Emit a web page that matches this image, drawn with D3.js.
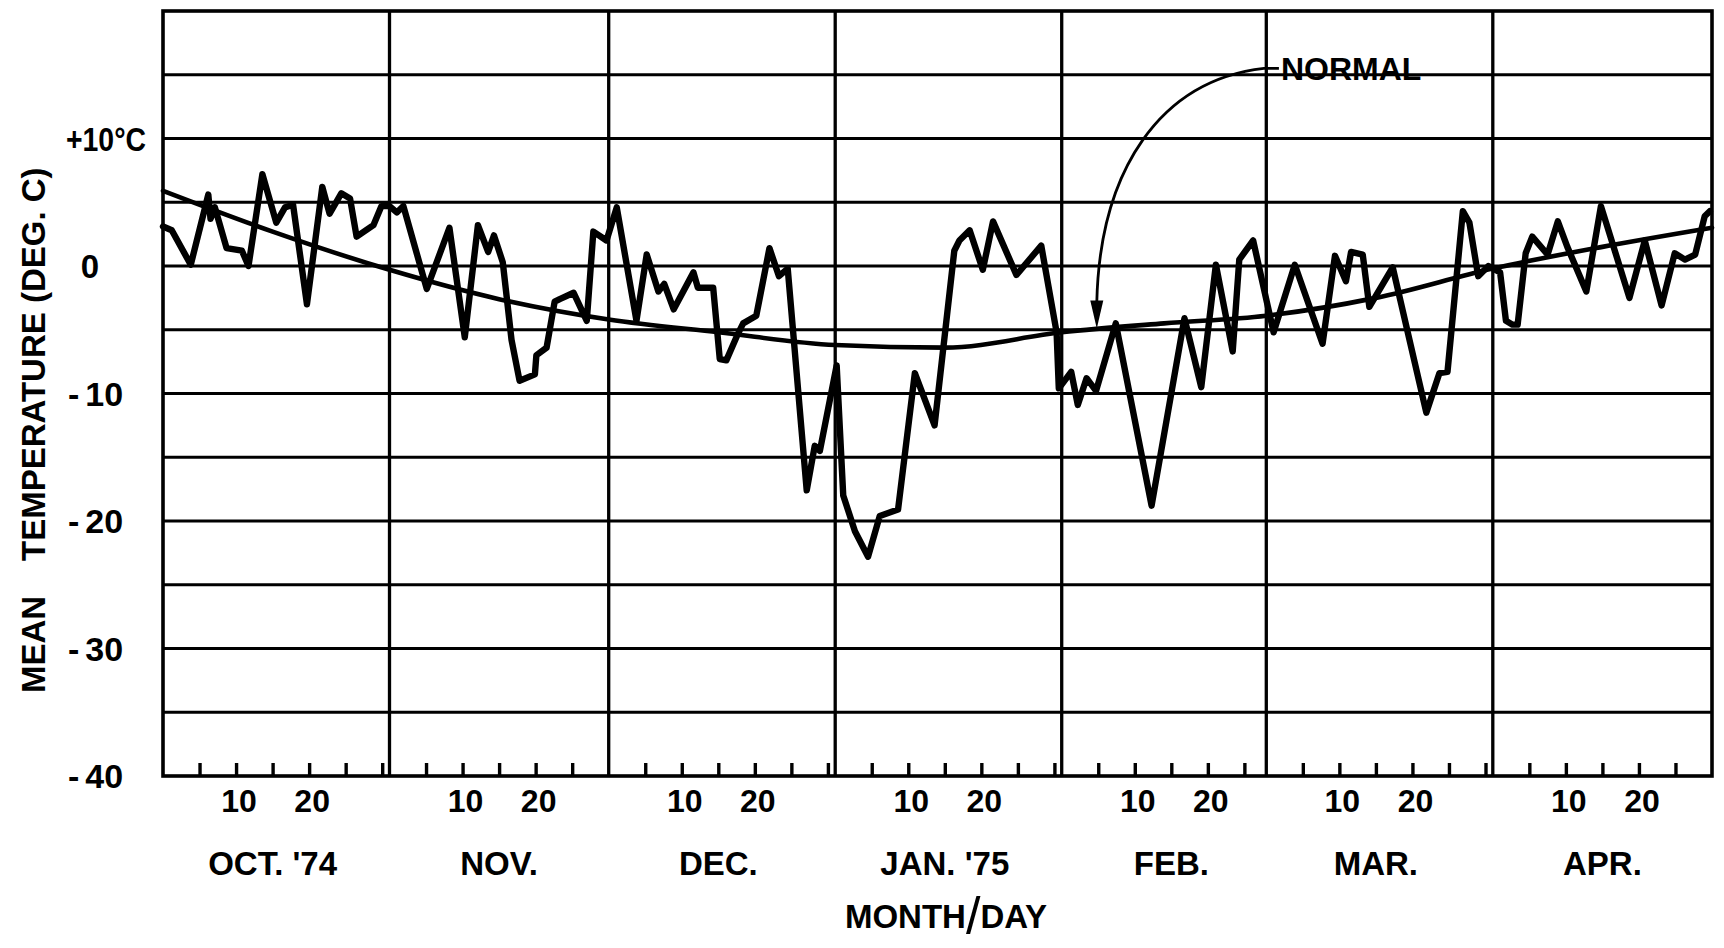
<!DOCTYPE html>
<html>
<head>
<meta charset="utf-8">
<script src="https://cdn.jsdelivr.net/npm/d3@7"></script>
<style>
  html, body { margin: 0; padding: 0; background: #fff; }
  svg { display: block; }
  text { font-family: "Liberation Sans", Arial, Helvetica, sans-serif; font-weight: bold; fill: #000; }
</style>
</head>
<body>
<svg id="chart" width="1724" height="948"></svg>
<script>
// Daily mean temperature, 1 Oct 1974 – 30 Apr 1975, with the long-term normal.

// Observed series: position in days after 1 Oct 1974, and mean temperature (°C)
const dayOffset = [
  0, 1.2, 3.8, 6.2, 6.5, 7.1, 8.7, 10.8, 11.7, 13.6, 15.5, 16.7, 17.8, 19.7, 21.8, 22.8, 24.4, 25.6, 26.5, 28.8, 29.9, 31.0, 32.0, 32.9,
  36.1, 39.2, 41.3, 43.1, 44.5, 45.3, 46.5, 47.7, 48.8, 50.9, 51.1, 52.5, 53.6, 54.3, 56.2, 58.0, 58.9, 60.7,
  62.1, 64.8, 66.2, 67.8, 68.6, 69.9, 72.6, 73.2, 75.3, 76.2, 77.1, 78.7, 79.4, 81.2, 83.0, 84.3, 85.5, 88.1, 89.2, 89.9,
  92.2, 93.1, 94.7, 96.5, 98.1, 100.6, 102.9, 105.6, 108.3, 109.0, 110.4, 112.2, 113.6, 116.8, 120.2,
  122.3, 122.6, 124.3, 125.2, 126.4, 127.7, 130.4, 135.3, 139.8, 142.1, 144.1, 146.4, 147.3, 149.2,
  152.0, 154.9, 158.7, 160.4, 161.9, 162.6, 164.2, 165.1, 168.3, 172.9, 174.7, 175.8, 177.9, 178.8,
  180.0, 181.4, 183.0, 183.8, 184.7, 185.4, 186.5, 187.4, 189.5, 190.9, 192.2, 194.8, 196.8, 200.7, 202.8, 205.1, 206.9, 208.3, 209.7, 211.0, 211.7
];
const meanTemp = [
  3.1, 2.8, 0.1, 5.6, 3.7, 4.6, 1.4, 1.2, 0.0, 7.2, 3.4, 4.6, 4.8, -3.0, 6.2, 4.1, 5.7, 5.3, 2.3, 3.2, 4.7, 4.7, 4.2, 4.7,
  -1.8, 3.0, -5.6, 3.2, 1.1, 2.4, 0.3, -5.8, -9.0, -8.5, -7.0, -6.4, -2.8, -2.6, -2.1, -4.3, 2.7, 2.0,
  4.6, -4.3, 0.9, -2.0, -1.4, -3.4, -0.5, -1.7, -1.7, -7.3, -7.4, -5.3, -4.5, -3.9, 1.4, -0.8, -0.2, -17.6, -14.1, -14.5,
  -7.8, -18.0, -20.8, -22.8, -19.6, -19.1, -8.4, -12.5, 1.2, 2.0, 2.8, -0.3, 3.5, -0.7, 1.6,
  -5.2, -9.6, -8.3, -10.9, -8.8, -9.8, -4.5, -18.8, -4.1, -9.5, 0.1, -6.7, 0.5, 2.0,
  -5.2, 0.1, -6.1, 0.8, -1.2, 1.1, 0.9, -3.2, -0.1, -11.5, -8.4, -8.3, 4.3, 3.4,
  -0.8, 0.0, -0.5, -4.3, -4.6, -4.6, 1.0, 2.3, 0.9, 3.5, 1.5, -2.0, 4.7, -2.5, 2.0, -3.1, 1.0, 0.5, 0.9, 3.9, 4.3
];

// Normal (climatological) curve
const normalDay  = [0, 15, 31, 46, 61, 76, 92, 107, 123, 137, 151, 166, 182, 197, 212];
const normalTemp = [5.9, 2.7, -0.3, -2.6, -4.2, -5.2, -6.2, -6.4, -5.2, -4.5, -3.9, -2.5, -0.2, 1.5, 3.0];

// Axis text
const monthLabels   = ["OCT. '74", "NOV.", "DEC.", "JAN. '75", "FEB.", "MAR.", "APR."];
const dayTickDays   = [5, 10, 15, 20, 25, 30];
const dayTickLabels = [10, 20];
const yTickValues   = [10, 0, -10, -20, -30, -40];
const yGridValues   = [15, 10, 5, 0, -5, -10, -15, -20, -25, -30, -35];

// Annotation for the normal curve
const noteText = "NORMAL";
const noteDay = 153, noteTemp = 15.5;      // where the label starts
const arrowDay = 127.8, arrowTemp = -4.9;  // where the arrow points

// ---- layout ----
const W = 1724, H = 948;
const plot = { left: 163, right: 1712, top: 11, bottom: 776 };
const FS = 33;

const start = Date.UTC(1974, 9, 1);
const dayMs = 864e5;
const toDate = t => new Date(start + t * dayMs);

const x = d3.scaleUtc()
  .domain([new Date(start), new Date(Date.UTC(1975, 4, 1))])
  .range([plot.left, plot.right]);
const y = d3.scaleLinear().domain([-40, 20]).range([plot.bottom, plot.top]);

const svg = d3.select("#chart");
svg.append("rect").attr("width", W).attr("height", H).attr("fill", "#fff");

const months = d3.utcMonth.range(new Date(start), new Date(Date.UTC(1975, 4, 1)));

// horizontal grid
svg.append("g").selectAll("line").data(yGridValues).join("line")
  .attr("x1", plot.left).attr("x2", plot.right)
  .attr("y1", d => y(d)).attr("y2", d => y(d))
  .attr("stroke", "#000").attr("stroke-width", 3);

// month separators
svg.append("g").selectAll("line").data(months.slice(1)).join("line")
  .attr("x1", d => x(d)).attr("x2", d => x(d))
  .attr("y1", plot.top).attr("y2", plot.bottom)
  .attr("stroke", "#000").attr("stroke-width", 3.3);

// frame
svg.append("rect")
  .attr("x", plot.left).attr("y", plot.top)
  .attr("width", plot.right - plot.left).attr("height", plot.bottom - plot.top)
  .attr("fill", "none").attr("stroke", "#000").attr("stroke-width", 3.6);

// day ticks along the bottom (every 5 days within each month)
const tickDates = [];
months.forEach(m => {
  const next = d3.utcMonth.offset(m, 1);
  dayTickDays.forEach(d => {
    const t = d3.utcDay.offset(m, d);
    if (t < next) tickDates.push(t);
  });
});
const xAxis = d3.axisBottom(x).tickValues(tickDates).tickSize(-13).tickFormat("");
const gx = svg.append("g").attr("transform", `translate(0,${plot.bottom})`).call(xAxis);
gx.select(".domain").remove();
gx.selectAll(".tick line").attr("stroke", "#000").attr("stroke-width", 3.4);

// day-of-month labels
const dayLabelData = [];
months.forEach(m => dayTickLabels.forEach(d => dayLabelData.push({ d, date: d3.utcDay.offset(m, d) })));
svg.append("g").selectAll("text").data(dayLabelData).join("text")
  .attr("x", d => x(d.date) + 3)
  .attr("y", 812)
  .attr("text-anchor", "middle")
  .attr("font-size", 32)
  .text(d => d.d);

// month labels
svg.append("g").selectAll("text").data(months).join("text")
  .attr("x", d => x(d3.utcDay.offset(d, 15)))
  .attr("y", 875)
  .attr("text-anchor", "middle")
  .attr("font-size", FS)
  .text((d, i) => monthLabels[i]);

// x-axis title
const xt = svg.append("text").attr("x", 946).attr("y", 928)
  .attr("text-anchor", "middle").attr("font-size", FS);
xt.append("tspan").text("MONTH");
xt.append("tspan").attr("font-size", 52).attr("font-weight", "normal").attr("dy", 6).text("/");
xt.append("tspan").attr("dy", -6).text("DAY");

// y tick labels
const yl = svg.append("g");
yTickValues.forEach(v => {
  const t = yl.append("text").attr("font-size", FS).attr("y", y(v) + 12);
  if (v > 0) {
    t.attr("x", 66).attr("text-anchor", "start")
      .attr("textLength", 80).attr("lengthAdjust", "spacingAndGlyphs")
      .text("+" + v + "°C");
  } else if (v === 0) {
    t.attr("x", 90).attr("text-anchor", "middle").text("0");
  } else {
    t.attr("x", 68).attr("text-anchor", "start").attr("font-size", 34);
    t.append("tspan").text("-");
    t.append("tspan").attr("dx", 6).text(String(-v));
  }
});

// y-axis title (rotated)
svg.append("text").attr("font-size", FS)
  .attr("transform", "translate(45,693) rotate(-90)")
  .text("MEAN");
svg.append("text").attr("font-size", FS)
  .attr("transform", "translate(45,561) rotate(-90)")
  .text("TEMPERATURE (DEG. C)");

// normal curve
const normalPts = normalDay.map((d, i) => [x(toDate(d)), y(normalTemp[i])]);
svg.append("path")
  .attr("d", d3.line().curve(d3.curveMonotoneX)(normalPts))
  .attr("fill", "none").attr("stroke", "#000").attr("stroke-width", 4.6)
  .attr("stroke-linecap", "round");

// observed series
const obsPts = dayOffset.map((d, i) => [x(toDate(d)), y(meanTemp[i])]);
svg.append("path")
  .attr("d", d3.line()(obsPts))
  .attr("fill", "none").attr("stroke", "#000").attr("stroke-width", 6.4)
  .attr("stroke-linejoin", "round").attr("stroke-linecap", "round");

// annotation: label with curved leader arrow to the normal curve
const lx = x(toDate(noteDay)), ly = y(noteTemp);
const tx = x(toDate(arrowDay)), ty = y(arrowTemp);
const headLen = 28, headHalf = 6.5;
const sx = lx - 17;
const leader = d3.path();
leader.moveTo(lx - 2, ly);
leader.lineTo(sx, ly);
leader.bezierCurveTo(sx - 104, ly + 12, tx + 3, ly + 102, tx, ty - headLen + 2);
svg.append("path").attr("d", leader.toString())
  .attr("fill", "none").attr("stroke", "#000").attr("stroke-width", 2.8);
svg.append("path")
  .attr("d", `M${tx - headHalf},${ty - headLen}L${tx + headHalf},${ty - headLen}L${tx},${ty}Z`)
  .attr("fill", "#000");
svg.append("text").attr("x", lx).attr("y", ly + 12)
  .attr("font-size", 32).text(noteText);
</script>
</body>
</html>
